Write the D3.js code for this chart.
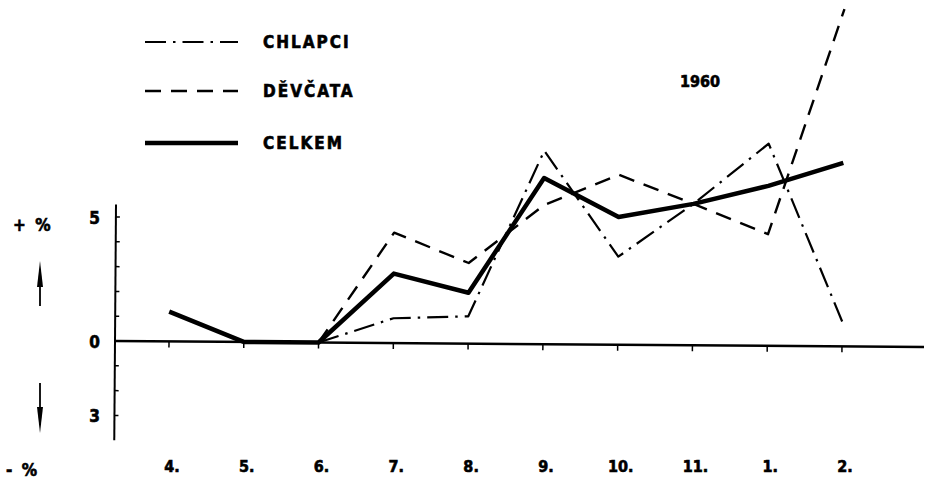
<!DOCTYPE html>
<html>
<head>
<meta charset="utf-8">
<script src="https://cdn.jsdelivr.net/npm/d3@7"></script>
<style>
	body { margin: 0; background: #fff; }
	text { font-family: "DejaVu Sans Condensed", "DejaVu Sans", sans-serif; font-weight: bold; fill: #000; stroke: #000; stroke-width: 0.6px; }
</style>
</head>
<body>
<svg id="chart" width="932" height="483"></svg>
<script>
// months (April 1959 .. February 1960)
const months = ["4.", "5.", "6.", "7.", "8.", "9.", "10.", "11.", "1.", "2."];
// percent change
const celkem = [1.2, 0, 0, 2.8, 2.05, 6.7, 5.15, 5.7, 6.45, 7.4];
const chlapci = [null, null, 0, 1.0, 1.1, 7.8, 3.55, 5.7, 8.15, 1.0];
const devcata = [null, null, 0, 4.45, 3.25, 5.6, 6.85, 5.7, 4.5, 13.6];
const yTickLabels = [[5, "5"], [0, "0"], [-3, "3"]];

const series = [
	{ name: "CHLAPCI", values: chlapci, width: 2.2, dash: "21,7,2.5,7" },
	{ name: "DĚVČATA", values: devcata, width: 2.4, dash: "16,10" },
	{ name: "CELKEM", values: celkem, width: 4.5, dash: null },
];

const svg = d3.select("#chart");

const x = d3.scalePoint().domain(months).range([169, 842]);
const y = d3.scaleLinear().domain([0, 5]).range([341, 217]);
const axisX = 115;

// the scanned chart is a little tilted
const plot = svg.append("g").attr("transform", `rotate(0.42, ${axisX}, ${y(0)})`);

// y axis
plot.append("line")
	.attr("x1", axisX).attr("x2", axisX)
	.attr("y1", y(5.5)).attr("y2", y(-4))
	.attr("stroke", "#000").attr("stroke-width", 2);

plot.append("g")
	.selectAll("line")
	.data(d3.range(-3, 6).filter((d) => d !== 0))
	.join("line")
	.attr("x1", axisX).attr("x2", axisX + 4)
	.attr("y1", (d) => y(d)).attr("y2", (d) => y(d))
	.attr("stroke", "#000").attr("stroke-width", 1.5);

// zero line + month ticks
plot.append("line")
	.attr("x1", axisX).attr("x2", 924)
	.attr("y1", y(0)).attr("y2", y(0))
	.attr("stroke", "#000").attr("stroke-width", 2.5);

plot.append("g")
	.selectAll("line")
	.data(months)
	.join("line")
	.attr("x1", (d) => x(d)).attr("x2", (d) => x(d))
	.attr("y1", y(0)).attr("y2", y(0) + 6)
	.attr("stroke", "#000").attr("stroke-width", 1.5);

// lines
const line = d3.line()
	.defined((d) => d != null)
	.x((d, i) => x(months[i]))
	.y((d) => y(d));

plot.append("g")
	.selectAll("path")
	.data(series)
	.join("path")
	.attr("d", (s) => line(s.values))
	.attr("fill", "none")
	.attr("stroke", "#000")
	.attr("stroke-width", (s) => s.width)
	.attr("stroke-dasharray", (s) => s.dash)
	.attr("stroke-linejoin", "round");

// month labels
svg.append("g")
	.selectAll("text")
	.data(months)
	.join("text")
	.attr("x", (d) => x(d) + 3)
	.attr("y", 472)
	.attr("text-anchor", "middle")
	.style("font-size", "16px")
	.text((d) => d);

// y labels
svg.append("g")
	.selectAll("text")
	.data(yTickLabels)
	.join("text")
	.attr("x", 100)
	.attr("y", (d) => y(d[0]) + 7)
	.attr("text-anchor", "end")
	.style("font-size", "17px")
	.text((d) => d[1]);

svg.append("text").attr("x", 13).attr("y", 231).style("font-size", "17px").style("letter-spacing", "2px").text("+ %");
svg.append("text").attr("x", 6).attr("y", 476).style("font-size", "17px").style("letter-spacing", "2px").text("-  %");

// arrows beside the y axis
svg.append("line").attr("x1", 40).attr("x2", 40).attr("y1", 270).attr("y2", 306)
	.attr("stroke", "#000").attr("stroke-width", 1.8);
svg.append("path").attr("d", "M40,261 L43,287 L37,287 Z").attr("fill", "#000");
svg.append("line").attr("x1", 40).attr("x2", 40).attr("y1", 383).attr("y2", 425)
	.attr("stroke", "#000").attr("stroke-width", 1.8);
svg.append("path").attr("d", "M40,433 L43,407 L37,407 Z").attr("fill", "#000");

// legend
const legend = svg.append("g")
	.selectAll("g")
	.data(series)
	.join("g")
	.attr("transform", (s, i) => `translate(0, ${[42, 91, 143][i]})`);

legend.append("line")
	.attr("x1", 145).attr("x2", 238)
	.attr("stroke", "#000")
	.attr("stroke-width", (s) => s.width)
	.attr("stroke-dasharray", (s) => s.dash);

legend.append("text")
	.attr("x", 263)
	.attr("y", 6)
	.style("font-size", "17px")
	.style("letter-spacing", "2px")
	.text((s) => s.name);

svg.append("text")
	.attr("x", 700).attr("y", 87)
	.attr("text-anchor", "middle")
	.style("font-size", "16px")
	.text("1960");
</script>
</body>
</html>
